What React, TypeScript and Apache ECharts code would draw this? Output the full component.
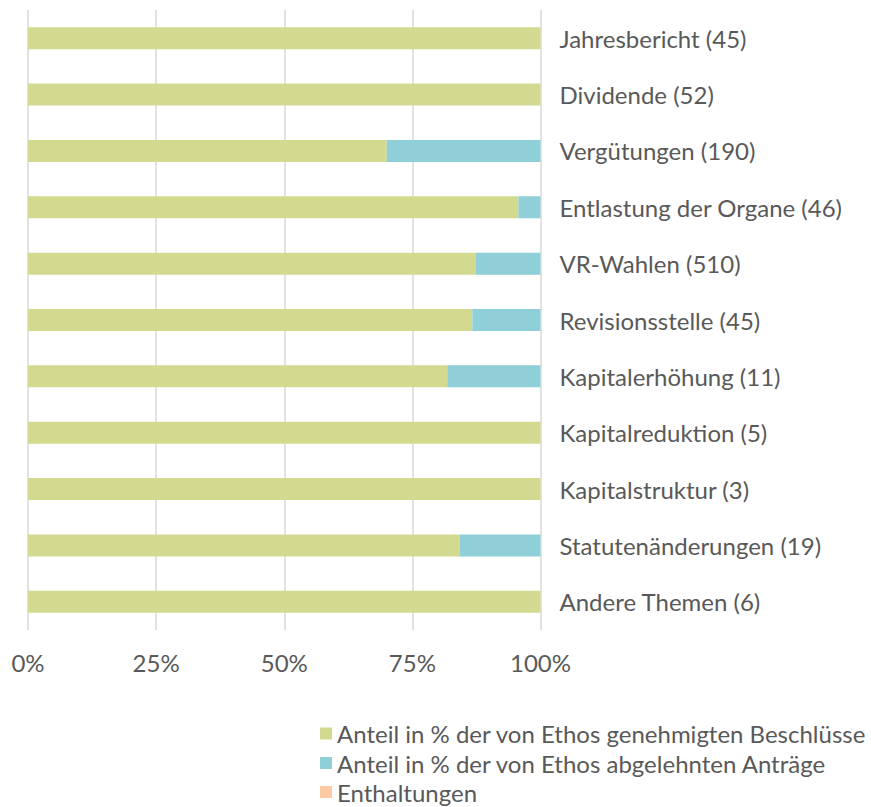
import React, { useEffect, useRef } from "react";
import * as echarts from "echarts";

const categories = [
  "Jahresbericht (45)",
  "Dividende (52)",
  "Vergütungen (190)",
  "Entlastung der Organe (46)",
  "VR-Wahlen (510)",
  "Revisionsstelle (45)",
  "Kapitalerhöhung (11)",
  "Kapitalreduktion (5)",
  "Kapitalstruktur (3)",
  "Statutenänderungen (19)",
  "Andere Themen (6)",
];
const approved = [100, 100, 70.0, 95.7, 87.4, 86.7, 81.8, 100, 100, 84.2, 100];
const rejected = [0, 0, 30.0, 4.3, 12.6, 13.3, 18.2, 0, 0, 15.8, 0];
const abstentions = [0, 0, 0, 0, 0, 0, 0, 0, 0, 0, 0];
const seriesNames = [
  "Anteil in % der von Ethos genehmigten Beschlüsse",
  "Anteil in % der von Ethos abgelehnten Anträge",
  "Enthaltungen",
];
const xTicks = [0, 25, 50, 75, 100];

const TEXT = "#595959";
const FONT = "Lato";

export default function App() {
  const ref = useRef<HTMLDivElement>(null);
  useEffect(() => {
    if (!ref.current) return;
    const chart = echarts.init(ref.current, undefined, { renderer: "svg" });
    const colors = ["#d3da8f", "#8ecfd8", "#fccba5"];
    const data = [approved, rejected, abstentions];
    const legendTops = [721.5, 751, 780];
    chart.setOption({
      animation: false,
      textStyle: { fontFamily: FONT, color: TEXT },
      grid: { left: 28, top: 10, width: 512.5, height: 620, containLabel: false },
      xAxis: {
        type: "value",
        min: xTicks[0],
        max: xTicks[xTicks.length - 1],
        interval: 25,
        axisLine: { show: false },
        axisTick: { show: false },
        splitLine: { show: true, lineStyle: { color: "#d9d9d9", width: 1.5 } },
        axisLabel: {
          color: TEXT,
          fontFamily: FONT,
          fontSize: 24,
          margin: 20,
          formatter: (v: number) => v + "%",
        },
      },
      yAxis: {
        type: "category",
        data: categories,
        inverse: true,
        position: "right",
        axisLine: { show: false },
        axisTick: { show: false },
        splitLine: { show: false },
        axisLabel: {
          color: TEXT,
          fontFamily: FONT,
          fontSize: 24,
          margin: 19,
        },
      },
      legend: seriesNames.map((name, i) => ({
        orient: "vertical",
        left: 320,
        top: legendTops[i],
        padding: 0,
        itemWidth: 12,
        itemHeight: 12,
        icon: "rect",
        textStyle: { color: TEXT, fontFamily: FONT, fontSize: 24, lineHeight: 22, padding: 0 },
        data: [name],
      })),
      series: seriesNames.map((name, i) => ({
        name,
        type: "bar",
        stack: "total",
        barWidth: 22,
        itemStyle: { color: colors[i] },
        data: data[i],
      })),
    });
    return () => chart.dispose();
  }, []);
  return <div ref={ref} style={{ width: 871, height: 807, position: "absolute", left: 0, top: 0 }} />;
}
